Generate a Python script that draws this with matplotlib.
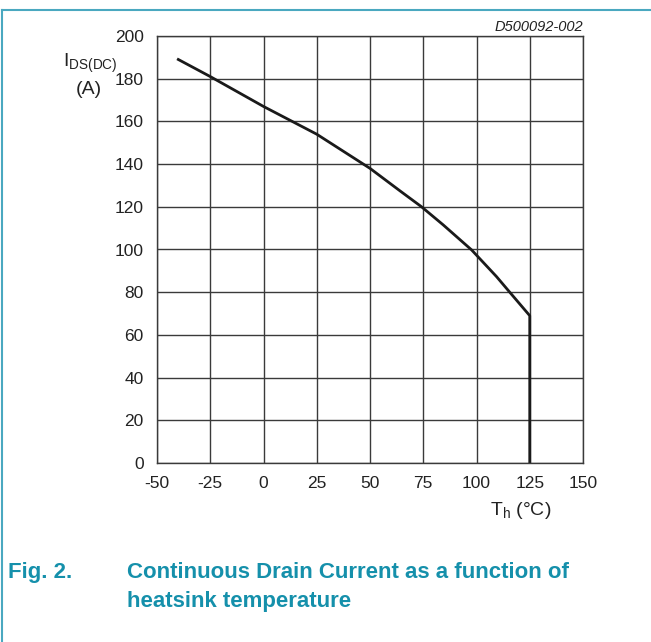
import matplotlib
matplotlib.use("Agg")
import matplotlib.pyplot as plt
from matplotlib.lines import Line2D

plt.rcParams['font.family'] = ['Liberation Sans', 'DejaVu Sans']

# Data
temp_c = [-40, -25, 0, 25, 50, 64.3, 74.2, 84.4, 97.7, 109.4, 115.6, 125, 125]
current_a = [189, 181, 167, 154, 138, 127.3, 120, 111.5, 99.8, 87.3, 80, 69, 0]
x_ticks = [-50, -25, 0, 25, 50, 75, 100, 125, 150]
y_ticks = [0, 20, 40, 60, 80, 100, 120, 140, 160, 180, 200]

W, H = 651, 642
fig = plt.figure(figsize=(W / 100, H / 100), dpi=100)

ax = fig.add_axes([157 / W, 1 - 463 / H, (583 - 157) / W, (463 - 36) / H])
ax.set_xlim(-50, 150)
ax.set_ylim(0, 200)
ax.set_xticks(x_ticks)
ax.set_yticks(y_ticks)
ax.set_xticklabels([str(v) for v in x_ticks], fontsize=12.5)
ax.set_yticklabels([str(v) for v in y_ticks], fontsize=12.5)
ax.tick_params(axis='y', length=0, pad=9.5, colors='#222222')
ax.tick_params(axis='x', length=0, pad=9.5, colors='#222222')
ax.grid(True, color='#3a3a3a', linewidth=1.0)
ax.set_axisbelow(True)
for s in ax.spines.values():
    s.set_color('#3a3a3a')
    s.set_linewidth(1.0)

ax.plot(temp_c, current_a, color='#1a1a1a', linewidth=2.0, solid_joinstyle='round')

# Axis labels
def px(x, y):
    return x / W, 1 - y / H

fig.text(*px(63, 67), r'I$_{\mathregular{DS(DC)}}$', fontsize=14, ha='left', va='baseline', color='#222222')
fig.text(*px(89, 94), '(A)', fontsize=14, ha='center', va='baseline', color='#222222')
fig.text(*px(490, 515), r'T$_{\mathregular{h}}$ (°C)', fontsize=14, ha='left', va='baseline', color='#222222')

# Code label
fig.text(*px(583, 31), 'D500092-002', fontsize=10.5, style='italic', ha='right', va='baseline', color='#222222')

# Caption
cap_color = '#1590ab'
fig.text(*px(8, 578), 'Fig. 2.', fontsize=16, fontweight='bold', ha='left', va='baseline', color=cap_color)
fig.text(*px(127, 578), 'Continuous Drain Current as a function of', fontsize=16, fontweight='bold',
         ha='left', va='baseline', color=cap_color)
fig.text(*px(127, 607), 'heatsink temperature', fontsize=16, fontweight='bold',
         ha='left', va='baseline', color=cap_color)

# Border lines
border = '#4aa8c0'
fig.add_artist(Line2D([2 / W, 1], [1 - 10 / H, 1 - 10 / H], color=border, linewidth=1.5, transform=fig.transFigure))
fig.add_artist(Line2D([2 / W, 2 / W], [0, 1 - 10 / H], color=border, linewidth=1.5, transform=fig.transFigure))

fig.savefig('out.png', dpi=100)
